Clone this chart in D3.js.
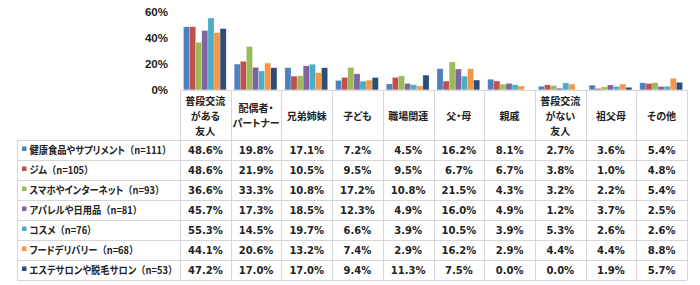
<!DOCTYPE html>
<html><head><meta charset="utf-8">
<script src="https://cdn.jsdelivr.net/npm/d3@7"></script>
<style>
html,body{margin:0;padding:0;background:#fff;}
svg{display:block;}
.jp{font-family:"Noto Sans CJK JP","Noto Sans",sans-serif;font-weight:700;font-feature-settings:"palt";}
.num{font-family:"DejaVu Sans",Verdana,sans-serif;font-weight:700;}
.ax{font-family:"Liberation Sans",Arial,sans-serif;font-weight:700;}
</style>
</head><body>
<svg id="chart" width="700" height="285"></svg>
<script>
const categories = [
  ["普段交流","がある","友人"],
  ["配偶者・","パートナー"],
  ["兄弟姉妹"],
  ["子ども"],
  ["職場関連"],
  ["父・母"],
  ["親戚"],
  ["普段交流","がない","友人"],
  ["祖父母"],
  ["その他"]
];
const seriesNames = [
  "健康食品やサプリメント（n=111）",
  "ジム（n=105）",
  "スマホやインターネット（n=93）",
  "アパレルや日用品（n=81）",
  "コスメ（n=76）",
  "フードデリバリー（n=68）",
  "エステサロンや脱毛サロン（n=53）"
];
const supplements = [48.6,19.8,17.1,7.2,4.5,16.2,8.1,2.7,3.6,5.4];
const gym         = [48.6,21.9,10.5,9.5,9.5,6.7,6.7,3.8,1.0,4.8];
const smartphone  = [36.6,33.3,10.8,17.2,10.8,21.5,4.3,3.2,2.2,5.4];
const apparel     = [45.7,17.3,18.5,12.3,4.9,16.0,4.9,1.2,3.7,2.5];
const cosme       = [55.3,14.5,19.7,6.6,3.9,10.5,3.9,5.3,2.6,2.6];
const delivery    = [44.1,20.6,13.2,7.4,2.9,16.2,2.9,4.4,4.4,8.8];
const esthe       = [47.2,17.0,17.0,9.4,11.3,7.5,0.0,0.0,1.9,5.7];
const yTicks = [0,20,40,60];
const colors = ["#4F81BD","#C0504D","#9BBB59","#8064A2","#4BACC6","#F79646","#2C4D75"];

const values = [supplements, gym, smartphone, apparel, cosme, delivery, esthe];

const svg = d3.select("#chart");
const tableLeft = 17, colStart = 180, colEnd = 687;
const headerTop = 90, headerBottom = 140, rowH = 20;
const tableBottom = headerBottom + rowH * seriesNames.length;
const border = "#d6d6d6";

const catIdx = d3.range(categories.length);
const x = d3.scaleBand().domain(catIdx).range([colStart, colEnd]).padding(0);
const xInner = d3.scaleBand().domain(d3.range(seriesNames.length))
  .range([3.5, x.bandwidth() - 4.5]).padding(0);
const y = d3.scaleLinear().domain([0, 60]).range([89.8, 12]);

// y axis labels
const yAxis = d3.axisLeft(y).tickValues(yTicks).tickFormat(d => d + "%").tickSize(0).tickPadding(0);
const yg = svg.append("g").attr("transform", "translate(168,0)").call(yAxis);
yg.select(".domain").remove();
yg.selectAll("text").attr("class","ax").style("font-size","11.5px").attr("fill","#222");

// bars
const gBars = svg.append("g");
values.forEach((arr, s) => {
  gBars.selectAll(null).data(arr).enter().append("rect")
    .attr("x", (d,i) => x(i) + xInner(s))
    .attr("width", xInner.bandwidth())
    .attr("y", d => y(d))
    .attr("height", d => y(0) - y(d))
    .attr("fill", colors[s])
    .attr("stroke", "#ffffff").attr("stroke-opacity", 0.35).attr("stroke-width", 0.6);
});

// table grid
const grid = svg.append("g").attr("stroke", border).attr("stroke-width", 1).attr("shape-rendering","crispEdges");
grid.append("line").attr("x1", colStart).attr("x2", colEnd).attr("y1", headerTop+0.5).attr("y2", headerTop+0.5);
d3.range(seriesNames.length + 1).forEach(r => {
  const yy = headerBottom + r * rowH + 0.5;
  grid.append("line").attr("x1", tableLeft).attr("x2", colEnd).attr("y1", yy).attr("y2", yy);
});
grid.append("line").attr("x1", tableLeft+0.5).attr("x2", tableLeft+0.5).attr("y1", headerBottom).attr("y2", tableBottom);
catIdx.concat([categories.length]).forEach(i => {
  const xx = Math.round(i < categories.length ? x(i) : colEnd) + 0.5;
  grid.append("line").attr("x1", xx).attr("x2", xx).attr("y1", headerTop).attr("y2", tableBottom);
});

// header labels
const lh = 15;
const hdr = svg.append("g");
categories.forEach((lines, i) => {
  const cx = x(i) + x.bandwidth()/2;
  const cy = (headerTop + headerBottom)/2 + 1;
  const t = hdr.append("text").attr("class","jp").attr("text-anchor","middle")
    .style("font-size","10px").attr("fill","#222");
  lines.forEach((ln, k) => {
    t.append("tspan").attr("x", cx)
      .attr("y", cy + (k - (lines.length-1)/2) * lh)
      .attr("dy","0.35em").text(ln);
  });
});

// legend rows + values
const labelNodes = [];
seriesNames.forEach((name, s) => {
  const cy = headerBottom + s * rowH + rowH/2 + 0.5;
  svg.append("rect").attr("x", 22).attr("y", cy - 4).attr("width", 4.5).attr("height", 4.5).attr("fill", colors[s]);
  const p = name.indexOf("（");
  const g = svg.append("g").attr("data-cy", cy);
  const t = g.append("text").attr("class","jp").attr("x", 0).attr("y", 0).attr("dy","0.36em")
    .style("font-size","10.5px").attr("fill","#222");
  t.append("tspan").text(name.slice(0, p));
  t.append("tspan").style("font-feature-settings","normal").text(name.slice(p));
  labelNodes.push({g, t, cy});
  values[s].forEach((v, i) => {
    svg.append("text").attr("class","num").attr("x", x(i) + x.bandwidth()/2).attr("y", cy).attr("dy","0.36em")
      .attr("text-anchor","middle").style("font-size","10px").attr("fill","#222")
      .text(v.toFixed(1) + "%");
  });
});
// fit legend labels horizontally so the first label spans its measured width in the reference
const w0 = labelNodes[0].t.node().getComputedTextLength();
const k = w0 > 0 ? 142 / w0 : 1;
labelNodes.forEach(({g, cy}) => g.attr("transform", `translate(29.5,${cy}) scale(${k},1)`));
</script>
</body></html>
